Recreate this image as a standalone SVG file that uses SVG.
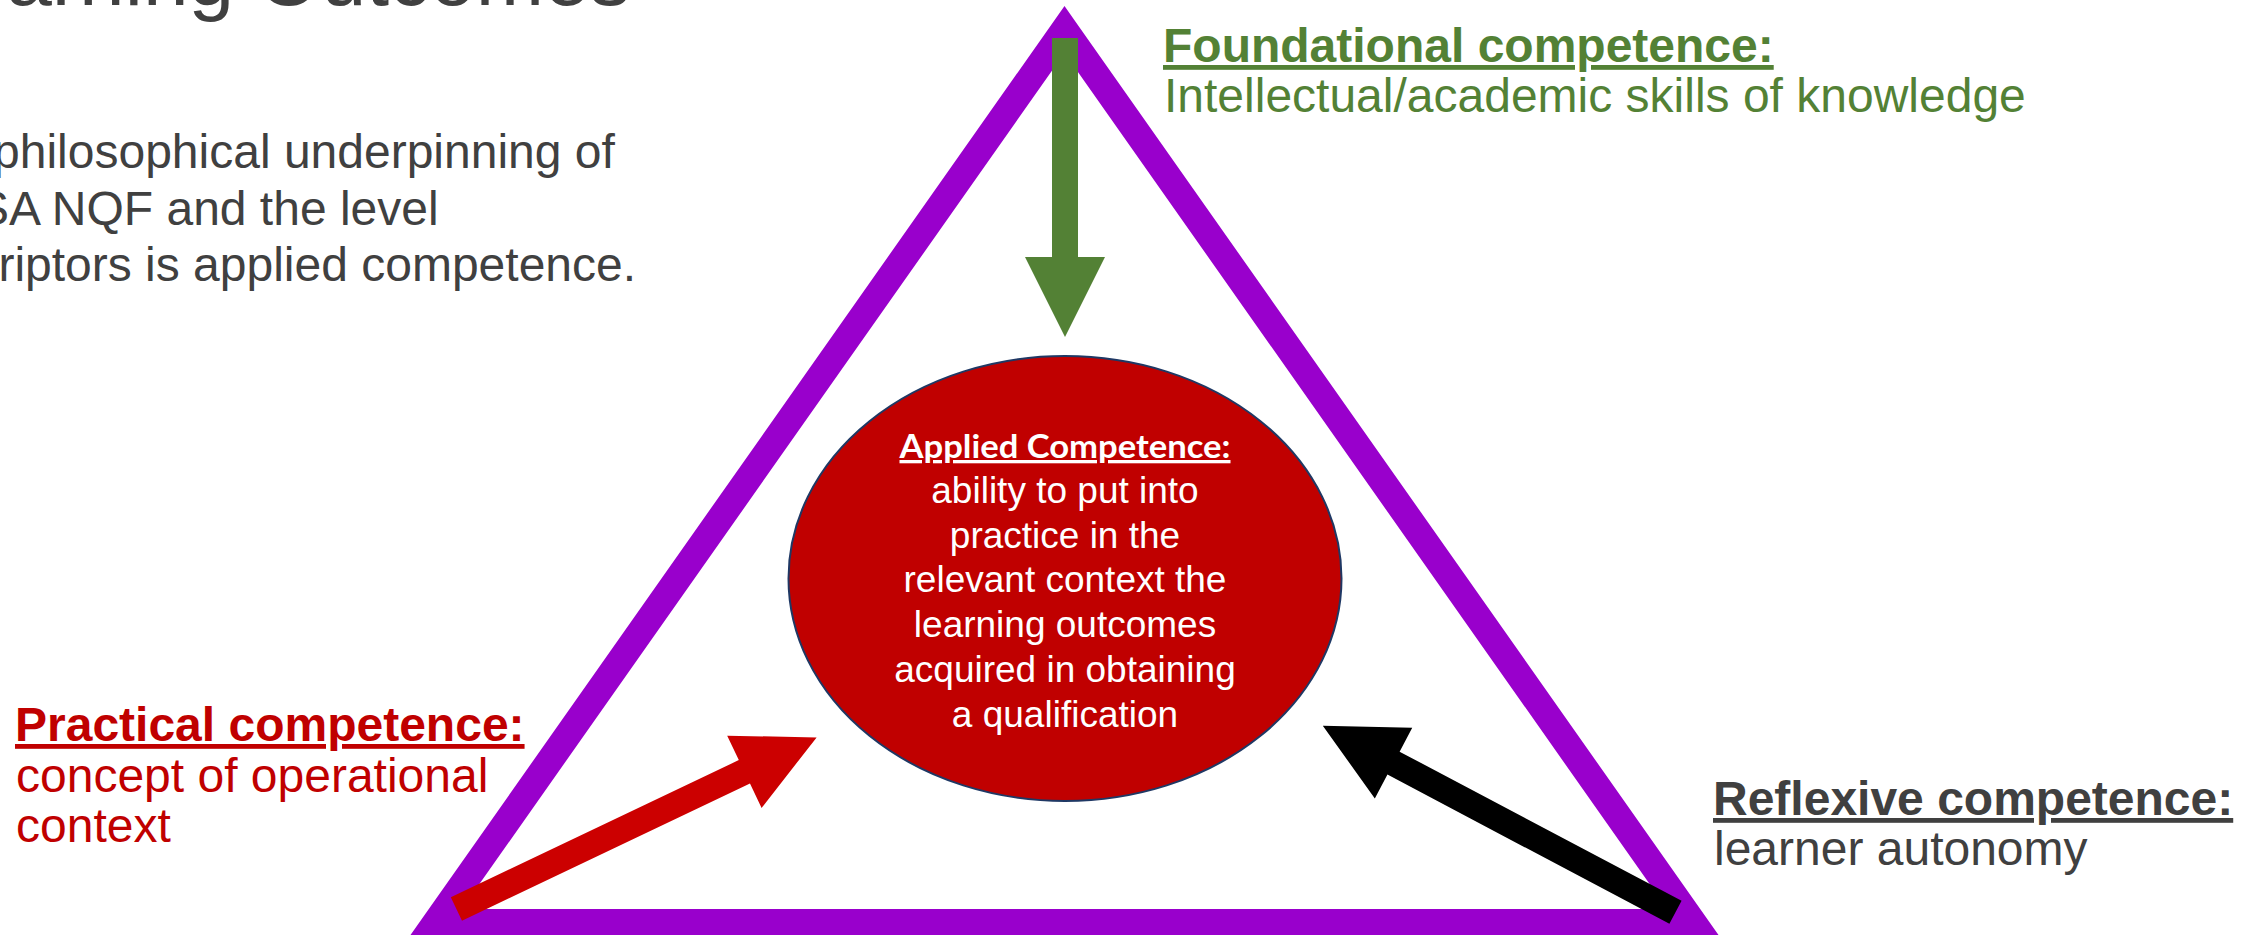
<svg xmlns="http://www.w3.org/2000/svg" width="2262" height="935" viewBox="0 0 2262 935">
<style>
.body{font-family:"Liberation Sans",Arial,sans-serif;font-size:48px;fill:#404040}
.title{font-family:"Liberation Sans",Arial,sans-serif;font-size:82px;fill:#404040}
.lbl{font-family:"Liberation Sans",Arial,sans-serif;font-size:48px}
.bold{font-weight:bold;text-decoration:underline}
.inner{font-family:"Liberation Sans",Arial,sans-serif;font-size:37px;fill:#ffffff;text-anchor:middle}
</style>
<rect x="0" y="0" width="2262" height="935" fill="#ffffff"/>
<g id="title">
<text class="title" x="-85" y="5">Learning Outcomes</text>
</g>
<g id="intro">
<text class="body" x="-103" y="168">The philosophical underpinning of</text>
<text class="body" x="-103" y="225">the SA NQF and the level</text>
<text class="body" x="-103" y="281">descriptors is applied competence.</text>
</g>
<g id="triangle">
<path d="M1064.5,29.5 L1693.2,922.5 L435.8,922.5 Z" fill="none" stroke="#9900CC" stroke-width="27" stroke-linejoin="miter" stroke-miterlimit="10"/>
</g>
<g id="applied">
<ellipse cx="1065" cy="578.5" rx="276.5" ry="222.5" fill="#C00000" stroke="#1F3864" stroke-width="2"/>
<text x="1065" y="458" font-family="Lato,'Open Sans',sans-serif" font-weight="bold" font-size="33" fill="#ffffff" text-anchor="middle" text-decoration="underline" textLength="331" lengthAdjust="spacingAndGlyphs">Applied Competence:</text>
<text class="inner" x="1065" y="503">ability to put into</text>
<text class="inner" x="1065" y="547.5">practice in the</text>
<text class="inner" x="1065" y="592">relevant context the</text>
<text class="inner" x="1065" y="637">learning outcomes</text>
<text class="inner" x="1065" y="682">acquired in obtaining</text>
<text class="inner" x="1065" y="726.5">a qualification</text>
</g>
<g id="connectors">
<path id="arrow-foundational" transform="translate(1065,38) rotate(90)" d="M0,-13 H219 V-40 L299,0 L219,40 V13 H0 Z" fill="#538135"/>
<path id="arrow-practical" transform="translate(456.4,909) rotate(-25.47)" d="M0,-13 H319 V-40 L399,0 L319,40 V13 H0 Z" fill="#CC0000"/>
<path id="arrow-reflexive" transform="translate(1675.5,912.3) rotate(-152.12)" d="M0,-13 H319 V-40 L399,0 L319,40 V13 H0 Z" fill="#000000"/>
</g>
<g id="foundational">
<text class="lbl bold" x="1163" y="62" fill="#538135">Foundational competence:</text>
<text class="lbl" x="1164" y="112" fill="#538135">Intellectual/academic skills of knowledge</text>
</g>
<g id="practical">
<text class="lbl bold" x="15" y="741" fill="#C00000">Practical competence:</text>
<text class="lbl" x="16" y="792" fill="#C00000">concept of operational</text>
<text class="lbl" x="16" y="842" fill="#C00000">context</text>
</g>
<g id="reflexive">
<text class="lbl bold" x="1713" y="815" fill="#404040">Reflexive competence:</text>
<text class="lbl" x="1714" y="865" fill="#404040">learner autonomy</text>
</g>
</svg>
